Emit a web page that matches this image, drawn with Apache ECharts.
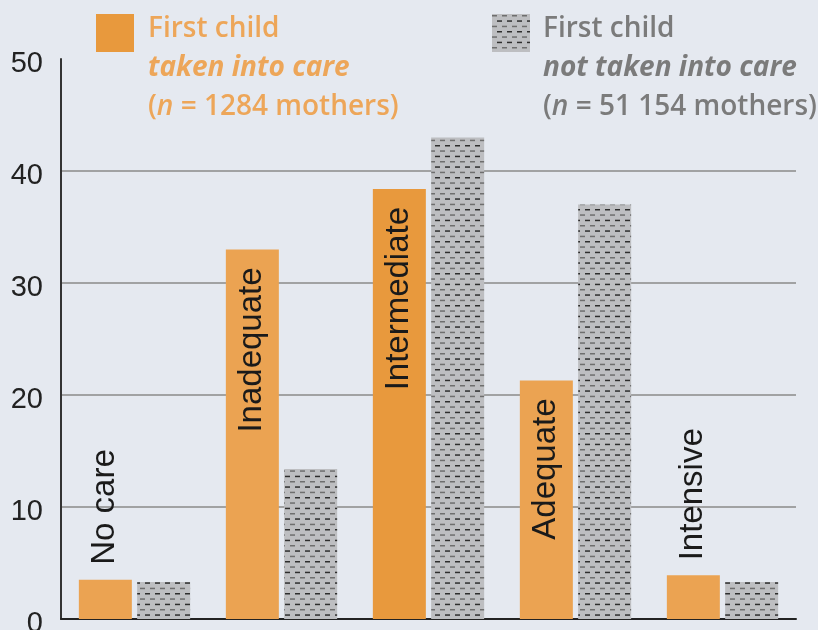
<!DOCTYPE html>
<html>
<head>
<meta charset="utf-8">
<script src="https://cdn.jsdelivr.net/npm/echarts@6/dist/echarts.min.js"></script>
<style>
  html, body { margin: 0; padding: 0; background: #e5e9f0; }
  #main { width: 818px; height: 630px; }
</style>
</head>
<body>
<div id="main"></div>
<script>
// care categories (shown as rotated labels on the orange bars)
const categories = ['No care', 'Inadequate', 'Intermediate', 'Adequate', 'Intensive'];
// % of mothers
const takenIntoCare = [3.5, 33.0, 38.4, 21.3, 3.9];
const notTakenIntoCare = [3.3, 13.4, 43.0, 37.0, 3.3];
const yTicks = [0, 10, 20, 30, 40, 50];
// labels that sit above the bar instead of inside it
const labelAbove = [true, false, false, false, true];

const FONT = '"Open Sans", "Noto Sans", sans-serif';
const SANS = '"Liberation Sans", Arial, sans-serif';
const ORANGE = '#eba352';
const ORANGE_DARK = '#e8993d';

// grey fill with dashed lines
function makeDashPattern() {
  const c = document.createElement('canvas');
  c.width = 10;
  c.height = 32;
  const g = c.getContext('2d');
  g.fillStyle = '#bdbec1';
  g.fillRect(0, 0, 10, 32);
  const rows = [1, 6.3, 11.7, 17, 22.3, 27.7];
  rows.forEach(function (y, i) {
    g.fillStyle = i % 2 ? '#2e2e2e' : '#6e6e6e';
    const x0 = i % 2 ? 5 : 0;
    g.fillRect(x0, y, 5, 1.5);
  });
  return c;
}
const dashPattern = { image: makeDashPattern(), repeat: 'repeat' };

const myChart = echarts.init(document.getElementById('main'));

const orangeData = takenIntoCare.map(function (v, i) {
  const item = {
    value: v,
    label: labelAbove[i]
      ? { position: 'top', align: 'left', distance: 15 }
      : { position: 'insideTop', align: 'right', distance: 18 }
  };
  if (i === 2) item.itemStyle = { color: ORANGE_DARK };
  return item;
});

function legendRich(col) {
  return {
    a: { fontSize: 28, fontWeight: 600, fontFamily: FONT, lineHeight: 39, fill: col },
    b: { fontSize: 28, fontWeight: 'bold', fontStyle: 'italic', fontFamily: FONT, lineHeight: 39, fill: col },
    c: { fontSize: 28, fontWeight: 600, fontStyle: 'italic', fontFamily: FONT, lineHeight: 39, fill: col }
  };
}

const option = {
  backgroundColor: '#e5e9f0',
  animation: false,
  grid: { left: 61, right: 22, top: 59, bottom: 11, outerBoundsMode: 'none', containLabel: false },
  xAxis: {
    type: 'category',
    data: categories,
    axisLine: { lineStyle: { color: '#222', width: 2 } },
    axisTick: { show: false },
    axisLabel: { show: false }
  },
  yAxis: {
    type: 'value',
    min: yTicks[0],
    max: yTicks[yTicks.length - 1],
    interval: 10,
    axisLine: { show: true, lineStyle: { color: '#333', width: 2 } },
    axisTick: { show: false },
    axisLabel: {
      fontSize: 29, color: '#222', fontFamily: SANS, margin: 18,
      verticalAlign: 'top', lineHeight: 10
    },
    splitLine: {
      lineStyle: {
        width: 1.5,
        // no gridline at the top value
        color: ['#8a8a8a', '#8a8a8a', '#8a8a8a', '#8a8a8a', '#8a8a8a', 'rgba(0,0,0,0)']
      }
    }
  },
  series: [
    {
      name: 'First child taken into care',
      type: 'bar',
      barWidth: 53,
      barGap: '10%',
      itemStyle: { color: ORANGE },
      label: {
        show: true,
        rotate: 90,
        verticalAlign: 'middle',
        fontSize: 33,
        color: '#1a1a1a',
        fontFamily: SANS,
        formatter: function (p) { return categories[p.dataIndex]; }
      },
      data: orangeData
    },
    {
      name: 'First child not taken into care',
      type: 'bar',
      barWidth: 53,
      itemStyle: { color: dashPattern },
      data: notTakenIntoCare
    }
  ],
  graphic: [
    { type: 'rect', left: 96, top: 14, shape: { width: 38, height: 38 }, style: { fill: ORANGE_DARK } },
    {
      type: 'text', left: 148, top: 15,
      style: {
        text: '{a|First child}\n{b|taken into care}\n{a|(}{c|n}{a| = 1284 mothers)}',
        rich: legendRich('#eda659')
      }
    },
    { type: 'rect', left: 492, top: 14, shape: { width: 38, height: 38 }, style: { fill: dashPattern } },
    {
      type: 'text', left: 543, top: 15,
      style: {
        text: '{a|First child}\n{b|not taken into care}\n{a|(}{c|n}{a| = 51 154 mothers)}',
        rich: legendRich('#7b7b7b')
      }
    }
  ]
};

myChart.setOption(option);
</script>
</body>
</html>
